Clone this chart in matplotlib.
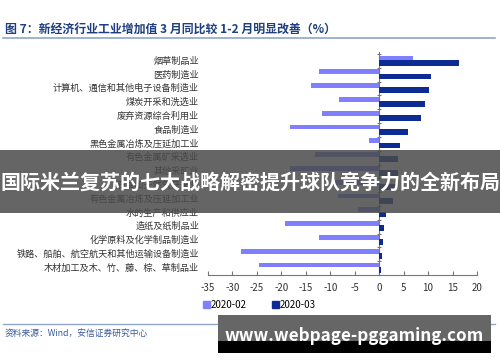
import matplotlib
matplotlib.use("Agg")
import matplotlib.pyplot as plt
import matplotlib.patches as mpatches
from matplotlib.transforms import blended_transform_factory
import numpy as np

plt.rcParams['font.family'] = ['Noto Sans CJK SC', 'DejaVu Sans']

# industries, top to bottom
categories = [
    "烟草制品业",
    "医药制造业",
    "计算机、通信和其他电子设备制造业",
    "煤炭开采和洗选业",
    "废弃资源综合利用业",
    "食品制造业",
    "黑色金属冶炼及压延加工业",
    "有色金属矿采选业",
    "其他采矿业",
    "石油和天然气开采业",
    "有色金属冶炼及压延加工业",
    "水的生产和供应业",
    "造纸及纸制品业",
    "化学原料及化学制品制造业",
    "铁路、船舶、航空航天和其他运输设备制造业",
    "木材加工及木、竹、藤、棕、草制品业",
]
feb_2020 = [6.9, -12.4, -13.9, -8.3, -11.6, -18.3, -2.0, -13.2, -18.3, -9.0,
            -8.5, -4.3, -19.2, -12.4, -28.3, -24.6]
mar_2020 = [16.3, 10.6, 10.1, 9.3, 8.6, 5.9, 4.3, 3.9, 3.8, 3.5,
            2.9, 1.4, 0.9, 0.8, 0.6, 0.4]
x_ticks = list(range(-35, 21, 5))
series_names = ["2020-02", "2020-03"]

c_feb = "#7F7FFF"
c_mar = "#0E2A93"

W, H = 500, 362
fig = plt.figure(figsize=(W / 100, H / 100), dpi=100)


def fx(px):
    return px / W


def fy(py):
    return 1 - py / H


# title and rule
fig.text(fx(5), fy(29), "图 7：新经济行业工业增加值 3 月同比较 1-2 月明显改善（%）",
         fontsize=8.6, fontweight="bold", color="#1F3F80", va="center", ha="left")
fig.add_artist(plt.Line2D([fx(3), fx(495)], [fy(38), fy(38)], color="#8FA6C8", lw=1.2))

# main axes
ax = fig.add_axes([fx(208), fy(275), (477 - 208) / W, (275 - 52) / H])
y = np.arange(len(categories))
ax.barh(y - 0.22, feb_2020, height=0.34, color=c_feb, zorder=2)
ax.barh(y + 0.12, mar_2020, height=0.42, color=c_mar, zorder=3)

ax.set_xlim(-35, 20)
ax.set_ylim(len(categories) - 0.7, -0.65)
ax.set_xticks(x_ticks)
ax.set_xticklabels([str(t) for t in x_ticks], fontsize=7, color="#333333")
ax.tick_params(axis="x", direction="in", length=3, color="#777777", pad=6)

for s in ["top", "right"]:
    ax.spines[s].set_visible(False)
ax.spines["bottom"].set_color("#777777")
ax.spines["left"].set_position(("data", 0))
ax.spines["left"].set_color("#777777")
ax.set_yticks(np.arange(len(categories) + 1) - 0.5)
ax.set_yticklabels([])
ax.tick_params(axis="y", direction="inout", length=3, color="#777777")

trans = blended_transform_factory(ax.transAxes, ax.transData)
for i, name in enumerate(categories):
    ax.text(-9 / 269, i, name, transform=trans, ha="right", va="center",
            fontsize=6.6, color="#333333")

# legend
handles = [mpatches.Patch(color=c_feb, label=series_names[0]),
           mpatches.Patch(color=c_mar, label=series_names[1])]
fig.legend(handles=handles, loc="center left", bbox_to_anchor=(fx(198), fy(305)),
           ncol=2, frameon=False, fontsize=7, handlelength=0.7, handleheight=0.7,
           handletextpad=0.1, columnspacing=2.6, borderpad=0)

# footer
fig.add_artist(plt.Line2D([fx(3), fx(495)], [fy(324), fy(324)], color="#8FA6C8", lw=1.0))
fig.text(fx(5), fy(333), "资料来源：Wind，安信证券研究中心", fontsize=6.3,
         style="italic", color="#3A5A9A", va="center", ha="left")

# banner overlay
fig.add_artist(mpatches.Rectangle((0, fy(213)), 1, (213 - 150) / H, transform=fig.transFigure,
                                  facecolor="#4A4A4A", alpha=0.85, zorder=10))
fig.text(0.5, fy(182), "国际米兰复苏的七大战略解密提升球队竞争力的全新布局",
         fontsize=14.4, fontweight="bold", color="white", ha="center", va="center", zorder=11)

# site overlay
fig.add_artist(mpatches.Rectangle((fx(218), fy(341)), (491 - 218) / W, (341 - 315) / H,
                                  transform=fig.transFigure, facecolor="#666666", zorder=10))
fig.add_artist(mpatches.Rectangle((fx(218), fy(353)), (491 - 218) / W, (353 - 341) / H,
                                  transform=fig.transFigure, facecolor="#000000", zorder=10))
fig.text(fx(354), fy(336), "www.webpage-pggaming.com", fontsize=12.3, fontweight="bold",
         color="white", ha="center", va="center", zorder=11)

fig.savefig("out.png", dpi=100)
